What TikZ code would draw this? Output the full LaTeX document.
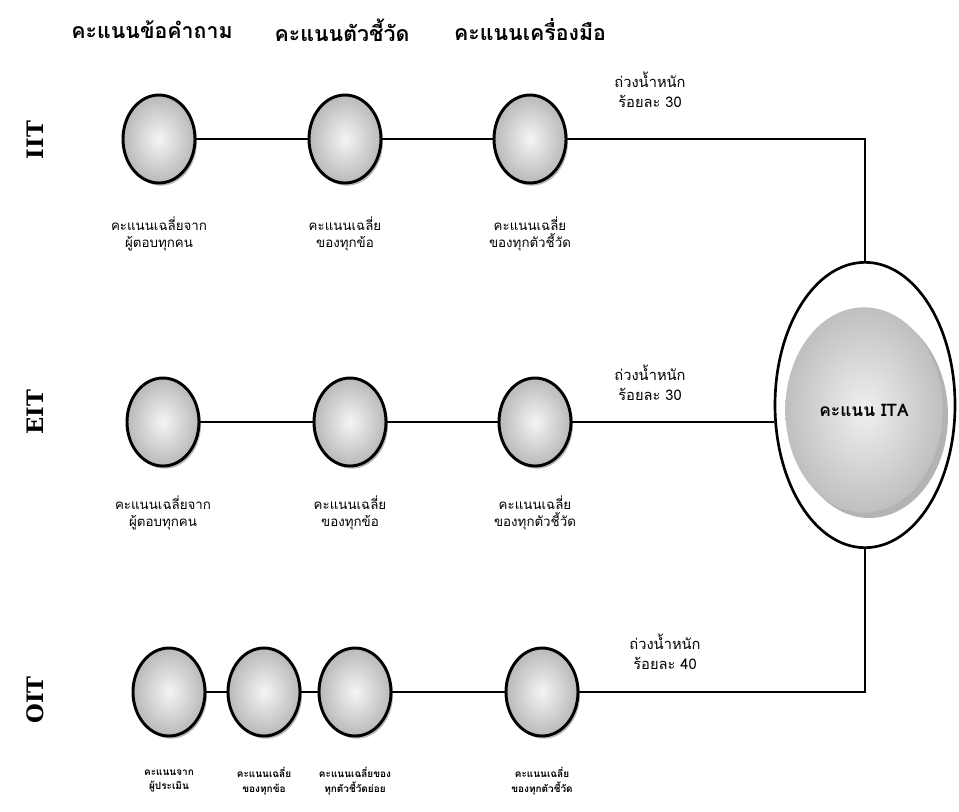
\documentclass[tikz,border=0pt]{standalone}
\usepackage{fontspec}
\newfontfamily\thaifont[Script=Thai]{Loma}
\newfontfamily\slabfont{DejaVu Serif}
\usetikzlibrary{shapes.geometric,shadows,positioning}

\tikzset{
  coin/.style={ellipse, draw, line width=2.2pt, minimum width=54pt, minimum height=66pt,
    inner color=gray!8, outer color=gray!55,
    drop shadow={shadow xshift=1.5pt, shadow yshift=-2pt, opacity=.55}},
  note/.style={font=\thaifont\fontsize{10}{12.5}\selectfont, align=center},
  smallnote/.style={font=\thaifont\bfseries\fontsize{7.5}{11}\selectfont, align=center},
  head/.style={font=\thaifont\bfseries\fontsize{16}{20}\selectfont},
  weight/.style={font=\thaifont\fontsize{11}{15}\selectfont, align=center},
  side/.style={font=\slabfont\bfseries\fontsize{17}{20}\selectfont, rotate=90},
  link/.style={line width=1pt},
}

\begin{document}
\begin{tikzpicture}[x=0.75pt, y=-0.75pt]
\useasboundingbox (0,0) rectangle (959,811);

% === Headers ===
\node[head] (Head-1) at (152,30) {คะแนนข้อคำถาม};
\node[head] (Head-2) at (342,30) {คะแนนตัวชี้วัด};
\node[head] (Head-3) at (530,30) {คะแนนเครื่องมือ};

% === Side labels ===
\node[side] (Side-1) at (35,140) {IIT};
\node[side] (Side-2) at (35,412) {EIT};
\node[side] (Side-3) at (35,700) {OIT};

% === ITA ===
\node[ellipse, draw, line width=2pt, minimum width=135pt, minimum height=214pt]
  (ITA) at (865,405) {};
\node[ellipse, minimum width=118pt, minimum height=154pt,
  inner color=gray!12, outer color=gray!50,
  drop shadow={shadow xshift=4pt, shadow yshift=-4pt, opacity=.6},
  font=\thaifont\bfseries\fontsize{13}{15}\selectfont]
  (ITA-core) at (864,410) {คะแนน ITA};

% === IIT row ===
\foreach \i/\x/\txt in {1/159/{คะแนนเฉลี่ยจาก\\ผู้ตอบทุกคน},
                        2/345/{คะแนนเฉลี่ย\\ของทุกข้อ},
                        3/530/{คะแนนเฉลี่ย\\ของทุกตัวชี้วัด}}{
  \node[coin] (IIT-\i) at (\x,139) {};
  \node[note] (IIT-txt-\i) at (\x,234) {\txt};
}

% === EIT row ===
\foreach \i/\x/\txt in {1/163/{คะแนนเฉลี่ยจาก\\ผู้ตอบทุกคน},
                        2/350/{คะแนนเฉลี่ย\\ของทุกข้อ},
                        3/535/{คะแนนเฉลี่ย\\ของทุกตัวชี้วัด}}{
  \node[coin] (EIT-\i) at (\x,422) {};
  \node[note] (EIT-txt-\i) at (\x,513) {\txt};
}

% === OIT row ===
\foreach \i/\x/\txt in {1/169/{คะแนนจาก\\ผู้ประเมิน},
                        2/264/{คะแนนเฉลี่ย\\ของทุกข้อ},
                        3/355/{คะแนนเฉลี่ยของ\\ทุกตัวชี้วัดย่อย},
                        4/542/{คะแนนเฉลี่ย\\ของทุกตัวชี้วัด}}{
  \node[coin] (OIT-\i) at (\x,692) {};
  \node[smallnote] (OIT-txt-\i) at (\x,781) {\txt};
}

% === Weights ===
\node[weight] (W-1) at (650,90) {ถ่วงน้ำหนัก\\ร้อยละ 30};
\node[weight] (W-2) at (650,383) {ถ่วงน้ำหนัก\\ร้อยละ 30};
\node[weight] (W-3) at (665,652) {ถ่วงน้ำหนัก\\ร้อยละ 40};

% === Connections ===
\draw[link] (IIT-1) -- (IIT-2);
\draw[link] (IIT-2) -- (IIT-3);
\draw[link] (IIT-3) -| (ITA.north);

\draw[link] (EIT-1) -- (EIT-2);
\draw[link] (EIT-2) -- (EIT-3);
\draw[link] (EIT-3) -- (ITA.west |- EIT-3);

\foreach \i/\j in {1/2,2/3,3/4}{
  \draw[link] (OIT-\i) -- (OIT-\j);
}
\draw[link] (OIT-4) -| (ITA.south);
\end{tikzpicture}
\end{document}
